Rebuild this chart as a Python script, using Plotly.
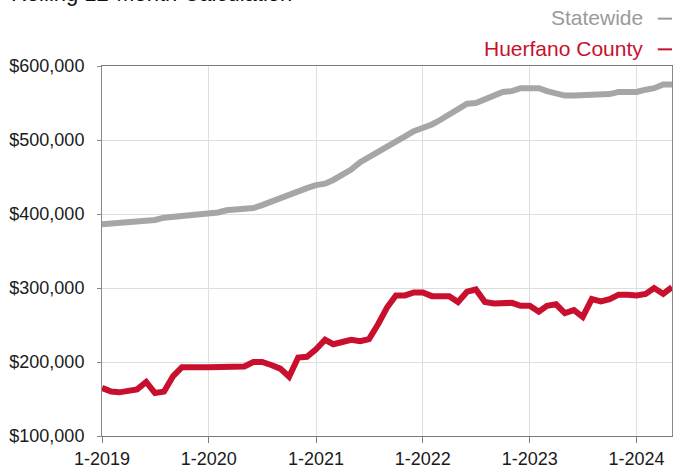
import pandas as pd
import plotly.graph_objects as go

months = pd.date_range("2019-01-01", "2024-05-01", freq="MS")

statewide = [386, 387, 388, 389, 390, 391, 392, 395, 396, 398, 400, 400,
             400, 402, 405, 406, 407, 408, 412, 417, 422, 427, 432, 435,
             439, 441, 446, 452, 460, 470, 478, 484, 491, 499, 505, 512,
             516, 521, 527, 534, 540, 549, 550, 555, 560, 565, 566, 570,
             570, 570, 566, 563, 560, 560, 560, 560, 560, 562, 565, 565,
             565, 568, 570, 575, 575]
huerfano = [165, 160, 159, 161, 163, 173, 158, 160, 181, 193, 192, 193,
            193, 193, 194, 194, 194, 200, 200, 196, 191, 180, 206, 207,
            217, 230, 224, 227, 230, 228, 231, 251, 274, 290, 290, 294,
            294, 289, 289, 289, 281, 295, 298, 281, 279, 280, 280, 276,
            276, 268, 276, 278, 266, 270, 261, 285, 282, 285, 291, 291,
            290, 292, 300, 292, 301]
statewide = [v * 1000 for v in statewide]
huerfano = [v * 1000 for v in huerfano]

series_names = ["Statewide", "Huerfano County"]
colors = ["#a6a6a6", "#c8102e"]
title_text = "Rolling 12-Month Calculation"

FONT = "Liberation Sans, Arial, Helvetica, sans-serif"

fig = go.Figure()
fig.add_trace(go.Scatter(x=months, y=statewide, mode="lines", name=series_names[0],
                         line=dict(color=colors[0], width=6)))
fig.add_trace(go.Scatter(x=months, y=huerfano, mode="lines", name=series_names[1],
                         line=dict(color=colors[1], width=6)))

fig.update_layout(
    width=673, height=468,
    margin=dict(l=102, r=1, t=66, b=32),
    paper_bgcolor="white", plot_bgcolor="white",
    showlegend=False,
    font=dict(family=FONT, size=18, color="#1a1a1a"),
)
fig.update_xaxes(
    type="date",
    range=[months[0], months[-1]],
    tickvals=[m for m in months if m.month == 1],
    tickformat="%-m-%Y",
    showgrid=True, gridcolor="#dedede", gridwidth=1,
    showline=True, linecolor="#7a7a7a", linewidth=1, mirror=True,
    ticks="outside", ticklen=6, tickcolor="#7a7a7a",
    tickfont=dict(size=18, color="#1a1a1a"),
    zeroline=False, automargin=False,
)
fig.update_yaxes(
    range=[100000, 600000],
    dtick=100000,
    tickformat="$,.0f",
    showgrid=True, gridcolor="#dedede", gridwidth=1,
    showline=True, linecolor="#8a8a8a", linewidth=1, mirror=True,
    ticks="outside", ticklen=4, tickcolor="#8a8a8a",
    ticklabelstandoff=9,
    tickfont=dict(size=18, color="#1a1a1a"),
    zeroline=False, automargin=False,
)

fig.add_annotation(text=title_text, xref="paper", yref="paper", x=-0.163, y=1.197,
                   xanchor="left", yanchor="middle", showarrow=False,
                   font=dict(size=22, color="#111111", family=FONT))
legend_y = [1.131, 1.048]
legend_colors = ["#9a9a9a", colors[1]]
for name, ly, lc in zip(series_names, legend_y, legend_colors):
    fig.add_annotation(text=name, xref="paper", yref="paper", x=0.952, y=ly,
                       xanchor="right", yanchor="middle", showarrow=False,
                       font=dict(size=21, color=lc, family=FONT))
    fig.add_shape(type="line", xref="paper", yref="paper", x0=0.975, x1=1.0,
                  y0=ly - 0.003, y1=ly - 0.003, line=dict(color=lc, width=2))

fig.write_html("out.html", config={"displayModeBar": False},
               post_script="document.body.style.margin='0';document.body.style.overflow='hidden';")
